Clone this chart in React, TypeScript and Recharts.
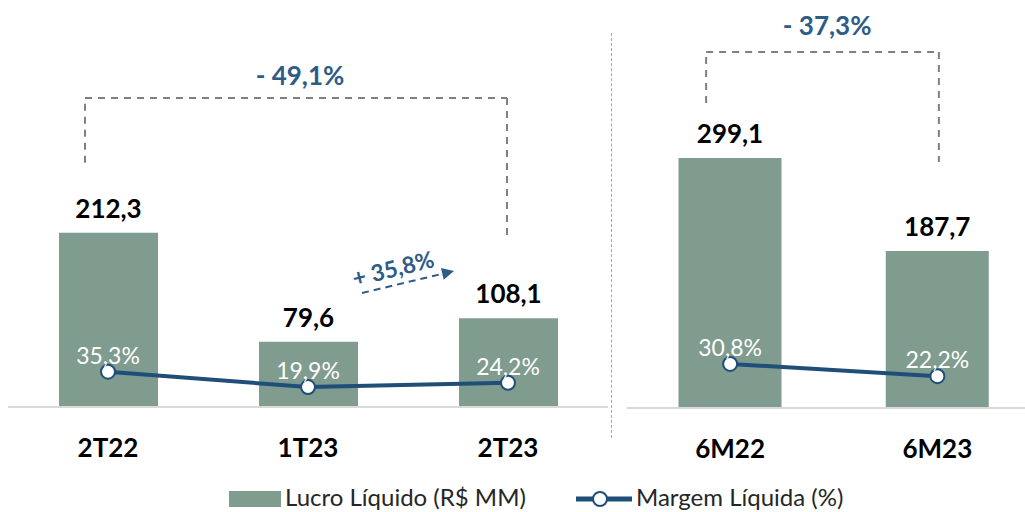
import React from 'react';
import { ComposedChart, Bar, Line, XAxis, YAxis, LabelList, ReferenceLine, ReferenceDot } from 'recharts';

const leftCategories = ['2T22', '1T23', '2T23'];
const leftLucro = [212.3, 79.6, 108.1];
const leftMargem = [35.3, 19.9, 24.2];

const rightCategories = ['6M22', '6M23'];
const rightLucro = [299.1, 187.7];
const rightMargem = [30.8, 22.2];

const leftChangeLabel = '- 49,1%';
const qoqChangeLabel = '+ 35,8%';
const rightChangeLabel = '- 37,3%';
const legendLabels = ['Lucro Líquido (R$ MM)', 'Margem Líquida (%)'];

const leftData = leftCategories.map((c, i) => ({ cat: c, lucro: leftLucro[i], margem: leftMargem[i] }));
const rightData = rightCategories.map((c, i) => ({ cat: c, lucro: rightLucro[i], margem: rightMargem[i] }));

const FONT = 'Lato, "Open Sans", sans-serif';
const BAR = '#7f9c8f';
const LINE = '#1f4e79';
const ANN = '#2e5b88';
const GRAY = '#808080';

const fmt = (v: number) => v.toFixed(1).replace('.', ',');

const CatTick = (props: any) => (
  <text x={props.x} y={props.y + 40} textAnchor="middle" dominantBaseline="central"
    fontFamily={FONT} fontWeight={700} fontSize={26} fill="#000">
    {props.payload.value}
  </text>
);

const BarValueLabel = (props: any) => {
  const { x, y, width, value } = props;
  return (
    <text x={x + width / 2} y={y - 25} textAnchor="middle" dominantBaseline="central"
      fontFamily={FONT} fontWeight={700} fontSize={26} fill="#000">
      {fmt(value)}
    </text>
  );
};

const PctLabel = (props: any) => {
  const { x, y, value } = props;
  return (
    <text x={x} y={y - 17} textAnchor="middle" dominantBaseline="central"
      fontFamily={FONT} fontSize={23} fill="#fff">
      {fmt(value) + '%'}
    </text>
  );
};

const AnnText = (text: string, size: number, dx = 0, rotate = 0) => (p: any) => {
  const cx = p.cx + dx;
  return (
    <text x={cx} y={p.cy} textAnchor="middle" dominantBaseline="central"
      fontFamily={FONT} fontWeight={700} fontSize={size} fill={ANN}
      transform={rotate ? `rotate(${rotate} ${cx} ${p.cy})` : undefined}>
      {text}
    </text>
  );
};

const Seg = (dx1: number, dx2: number) => (p: any) => (
  <line x1={p.x1 + dx1} y1={p.y1} x2={p.x2 + dx2} y2={p.y2}
    stroke={GRAY} strokeWidth={2} strokeDasharray="7 6" />
);

const ArrowShape = (dx1: number, dx2: number) => (p: any) => {
  const x1 = p.x1 + dx1, y1 = p.y1, x2 = p.x2 + dx2, y2 = p.y2;
  const ang = Math.atan2(y2 - y1, x2 - x1);
  const L = 12, W = 6;
  const bx = x2 - L * Math.cos(ang), by = y2 - L * Math.sin(ang);
  const px = -Math.sin(ang) * W, py = Math.cos(ang) * W;
  return (
    <g>
      <line x1={x1} y1={y1} x2={bx} y2={by} stroke={ANN} strokeWidth={2} strokeDasharray="7 5" />
      <polygon points={`${x2},${y2} ${bx + px},${by + py} ${bx - px},${by - py}`} fill={ANN} />
    </g>
  );
};

export default function App() {
  const [l0, l1, l2] = leftCategories;
  const [r0, r1] = rightCategories;
  return (
    <div style={{ position: 'absolute', left: 0, top: 0, width: 1025, height: 512, overflow: 'hidden', background: '#fff', fontFamily: FONT }}>
      {/* Left panel */}
      <div style={{ position: 'absolute', left: 0, top: 0 }}>
        <ComposedChart width={620} height={512} data={leftData} margin={{ top: 10, right: 12, left: 8, bottom: 45 }}>
          <XAxis xAxisId="c" dataKey="cat" height={60} tickLine={false} tickSize={0} tickMargin={0}
            axisLine={{ stroke: '#d9d9d9', strokeWidth: 2 }} tick={CatTick} interval={0} />
          <YAxis yAxisId="b" domain={[0, 484]} hide allowDataOverflow />
          <YAxis yAxisId="p" domain={[0, 397]} hide allowDataOverflow />
          <Bar xAxisId="c" yAxisId="b" dataKey="lucro" fill={BAR} barSize={99} isAnimationActive={false}>
            <LabelList dataKey="lucro" content={BarValueLabel} />
          </Bar>
          <Line xAxisId="c" yAxisId="p" dataKey="margem" stroke={LINE} strokeWidth={4}
            dot={{ r: 7, fill: '#fff', stroke: LINE, strokeWidth: 2 }} activeDot={false} isAnimationActive={false}>
            <LabelList dataKey="margem" content={PctLabel} />
          </Line>
          <ReferenceLine xAxisId="c" yAxisId="b" ifOverflow="visible" segment={[{ x: l0, y: 297.7 }, { x: l0, y: 376.7 }]} shape={Seg(-23, -23)} />
          <ReferenceLine xAxisId="c" yAxisId="b" ifOverflow="visible" segment={[{ x: l0, y: 376.7 }, { x: l2, y: 376.7 }]} shape={Seg(-23, -1)} />
          <ReferenceLine xAxisId="c" yAxisId="b" ifOverflow="visible" segment={[{ x: l2, y: 376.7 }, { x: l2, y: 207.4 }]} shape={Seg(-1, -1)} />
          <ReferenceDot xAxisId="c" yAxisId="b" x={l1} y={404.8} r={0} ifOverflow="visible" shape={AnnText(leftChangeLabel, 26, -8)} />
          <ReferenceLine xAxisId="c" yAxisId="b" ifOverflow="visible" segment={[{ x: l1, y: 139 }, { x: l2, y: 165.8 }]} shape={ArrowShape(54, -54)} />
          <ReferenceDot xAxisId="c" yAxisId="b" x={l1} y={169.5} r={0} ifOverflow="visible" shape={AnnText(qoqChangeLabel, 23, 85, -14)} />
        </ComposedChart>
      </div>

      {/* Separator */}
      <div style={{ position: 'absolute', left: 611, top: 33, height: 405, borderLeft: '1px dashed #a6a6a6' }} />

      {/* Right panel */}
      <div style={{ position: 'absolute', left: 620, top: 0 }}>
        <ComposedChart width={421} height={512} data={rightData} margin={{ top: 10, right: 0, left: 6.5, bottom: 44 }}>
          <XAxis xAxisId="c" dataKey="cat" height={60} tickLine={false} tickSize={0} tickMargin={0}
            axisLine={{ stroke: '#d9d9d9', strokeWidth: 2 }} tick={CatTick} interval={0} />
          <YAxis yAxisId="b" domain={[0, 476]} hide allowDataOverflow />
          <YAxis yAxisId="p" domain={[0, 278]} hide allowDataOverflow />
          <Bar xAxisId="c" yAxisId="b" dataKey="lucro" fill={BAR} barSize={103} isAnimationActive={false}>
            <LabelList dataKey="lucro" content={BarValueLabel} />
          </Bar>
          <Line xAxisId="c" yAxisId="p" dataKey="margem" stroke={LINE} strokeWidth={4}
            dot={{ r: 7, fill: '#fff', stroke: LINE, strokeWidth: 2 }} activeDot={false} isAnimationActive={false}>
            <LabelList dataKey="margem" content={PctLabel} />
          </Line>
          <ReferenceLine xAxisId="c" yAxisId="b" ifOverflow="visible" segment={[{ x: r0, y: 364.8 }, { x: r0, y: 425.8 }]} shape={Seg(-24, -24)} />
          <ReferenceLine xAxisId="c" yAxisId="b" ifOverflow="visible" segment={[{ x: r0, y: 425.8 }, { x: r1, y: 425.8 }]} shape={Seg(-24, 1.5)} />
          <ReferenceLine xAxisId="c" yAxisId="b" ifOverflow="visible" segment={[{ x: r1, y: 425.8 }, { x: r1, y: 294.2 }]} shape={Seg(1.5, 1.5)} />
          <ReferenceDot xAxisId="c" yAxisId="b" x={r0} y={458} r={0} ifOverflow="visible" shape={AnnText(rightChangeLabel, 26, 97)} />
        </ComposedChart>
      </div>

      {/* Legend */}
      <div style={{ position: 'absolute', left: 229, top: 491, width: 52, height: 16, background: BAR }} />
      <div style={{ position: 'absolute', left: 285, top: 483, fontSize: 24, lineHeight: '28px', color: '#262626', whiteSpace: 'nowrap' }}>{legendLabels[0]}</div>
      <svg style={{ position: 'absolute', left: 574, top: 489 }} width={60} height={20}>
        <line x1={2} y1={10} x2={58} y2={10} stroke={LINE} strokeWidth={5} />
        <circle cx={26} cy={10} r={7} fill="#fff" stroke={LINE} strokeWidth={2} />
      </svg>
      <div style={{ position: 'absolute', left: 636, top: 483, fontSize: 24, lineHeight: '28px', color: '#262626', whiteSpace: 'nowrap' }}>{legendLabels[1]}</div>
    </div>
  );
}
